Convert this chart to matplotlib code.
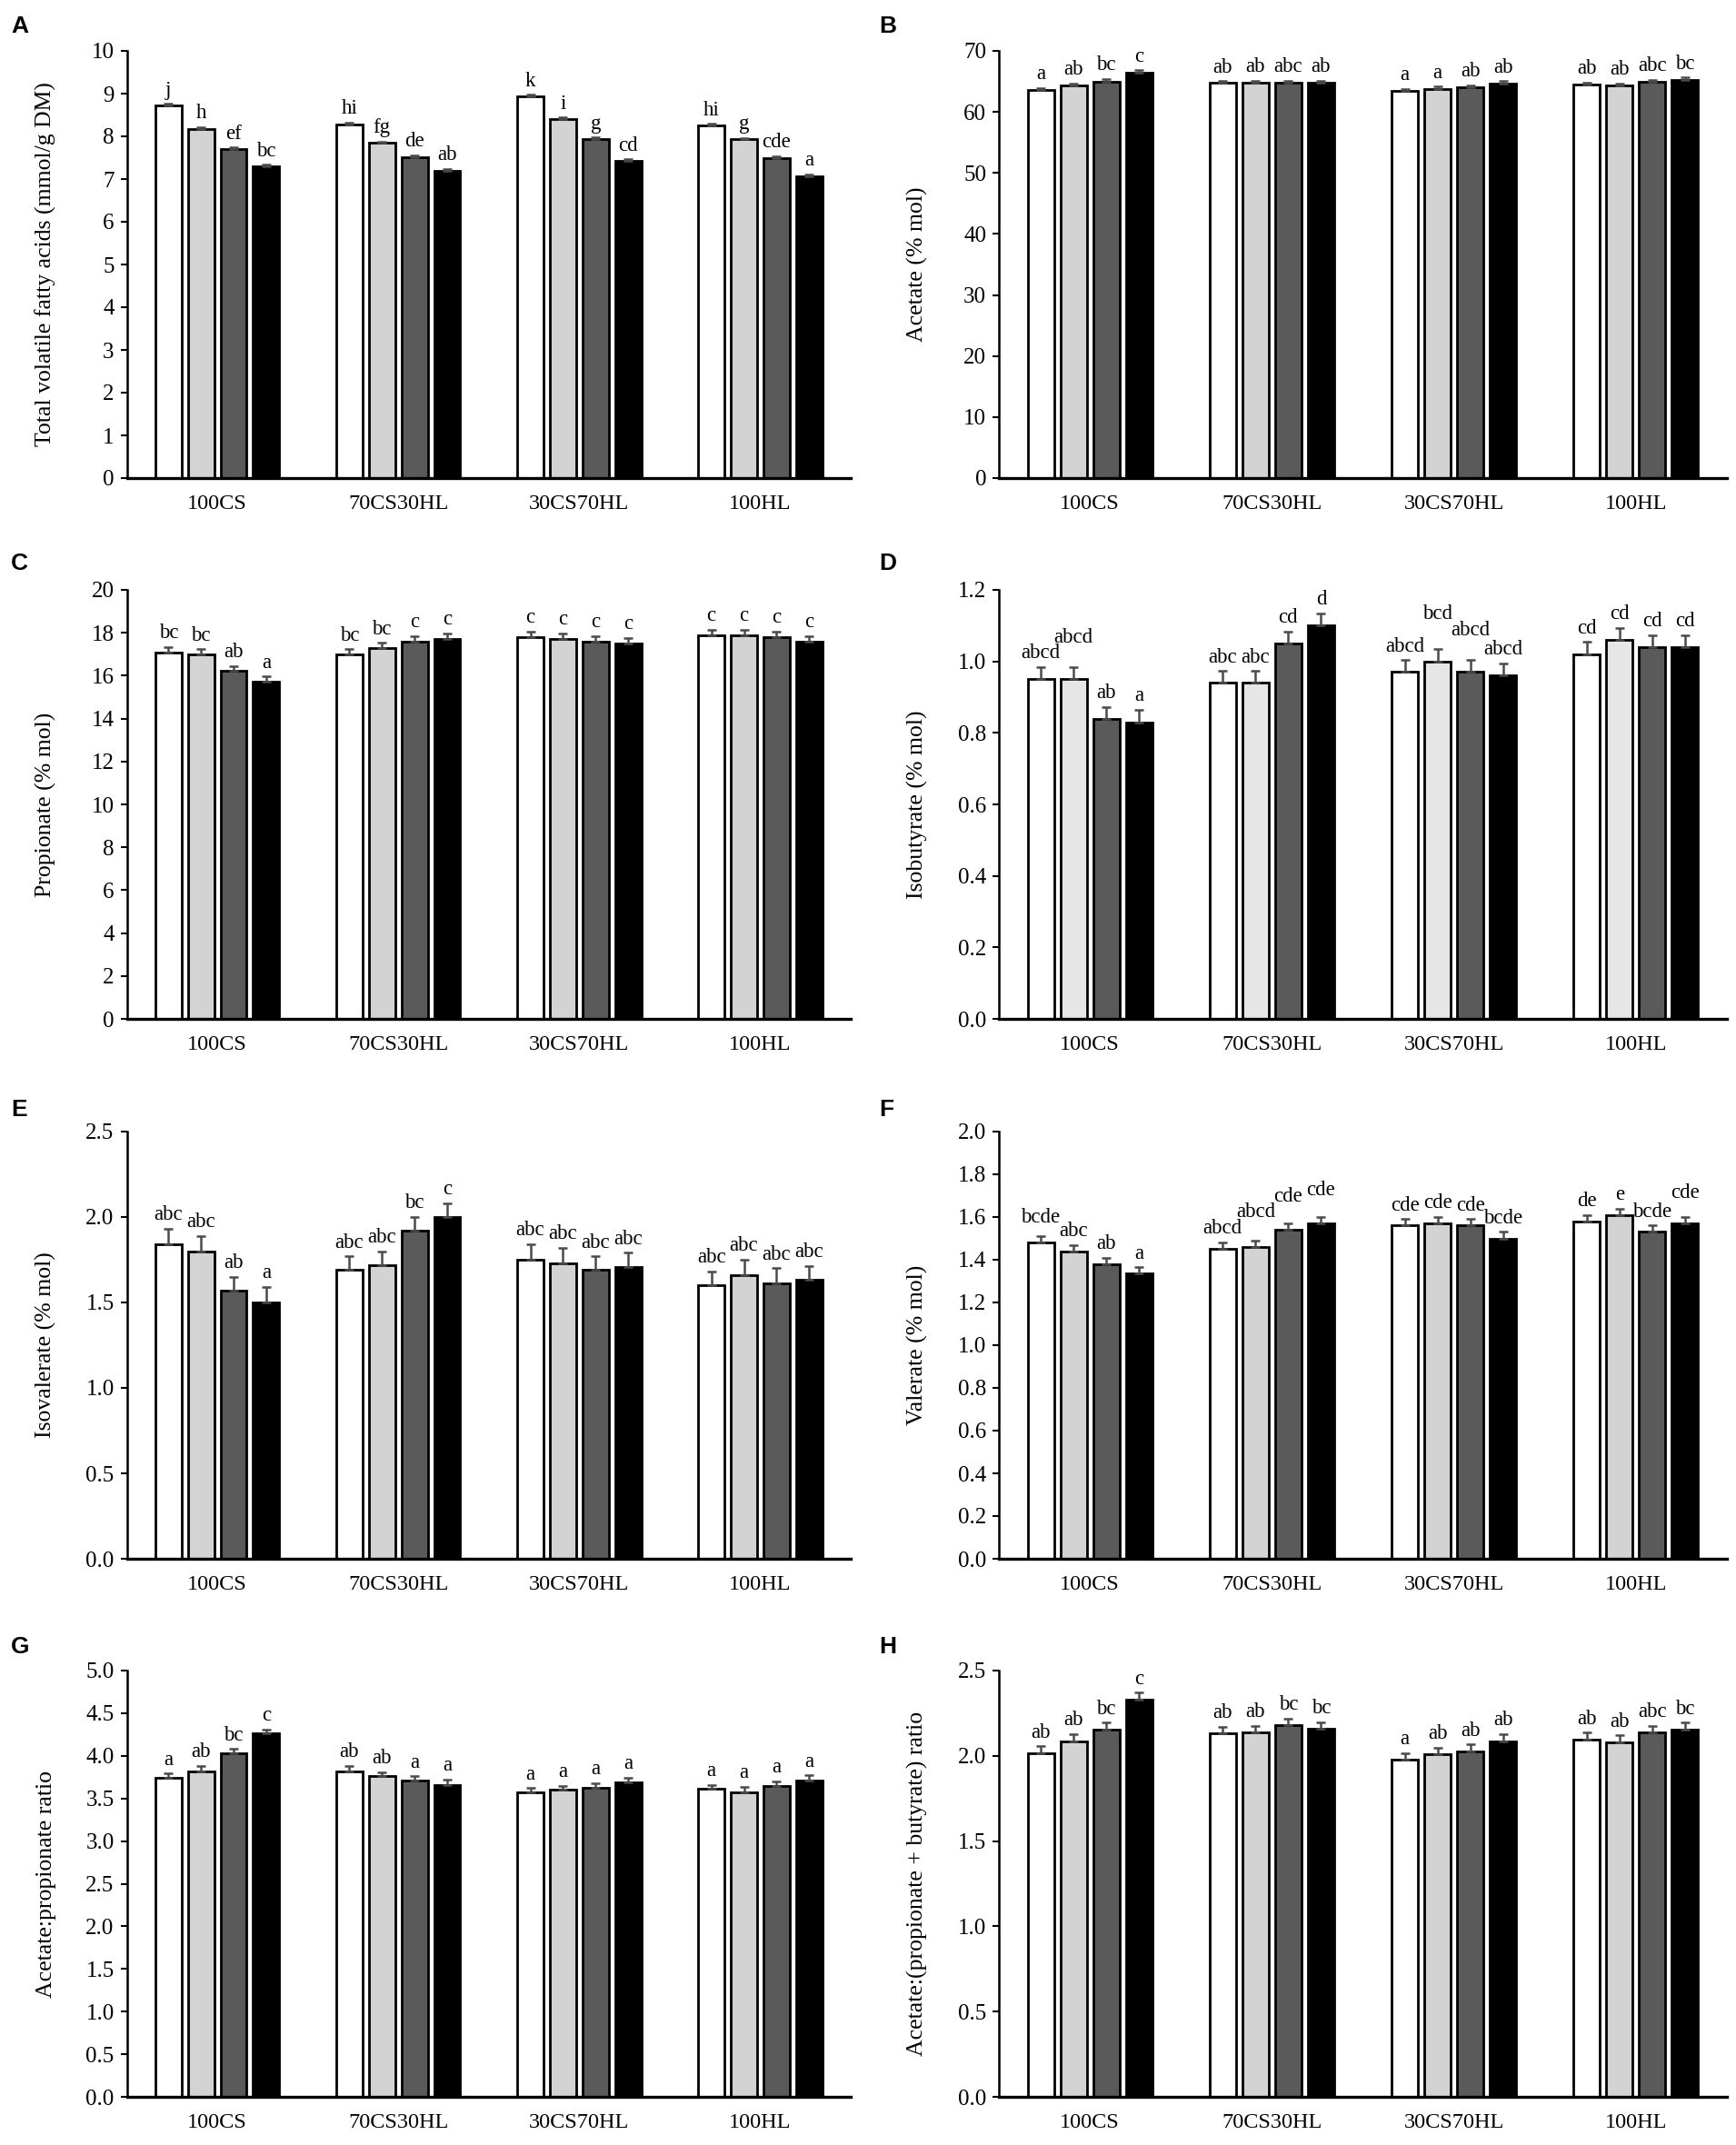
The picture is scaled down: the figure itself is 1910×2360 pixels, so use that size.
import numpy as np
import matplotlib.pyplot as plt

groups = ['100CS', '70CS30HL', '30CS70HL', '100HL']

# values per group, 4 bars each (white, light grey, dark grey, black)
tvfa = [[8.72, 8.18, 7.70, 7.29], [8.28, 7.85, 7.52, 7.19],
        [8.94, 8.40, 7.93, 7.42], [8.25, 7.93, 7.49, 7.07]]
tvfa_se = [[0.04, 0.04, 0.04, 0.04], [0.04, 0.03, 0.04, 0.04],
           [0.03, 0.04, 0.04, 0.04], [0.04, 0.03, 0.04, 0.04]]
tvfa_let = [['j', 'h', 'ef', 'bc'], ['hi', 'fg', 'de', 'ab'],
            ['k', 'i', 'g', 'cd'], ['hi', 'g', 'cde', 'a']]

acet = [[63.6, 64.3, 65.0, 66.5], [64.8, 64.8, 64.8, 64.8],
        [63.4, 63.8, 64.1, 64.7], [64.5, 64.3, 65.0, 65.3]]
acet_se = [[0.35, 0.35, 0.4, 0.3], [0.25, 0.3, 0.35, 0.3],
           [0.35, 0.35, 0.3, 0.35], [0.3, 0.35, 0.3, 0.35]]
acet_let = [['a', 'ab', 'bc', 'c'], ['ab', 'ab', 'abc', 'ab'],
            ['a', 'a', 'ab', 'ab'], ['ab', 'ab', 'abc', 'bc']]

prop = [[17.07, 16.98, 16.23, 15.71], [16.98, 17.28, 17.58, 17.71],
        [17.80, 17.71, 17.60, 17.50], [17.90, 17.90, 17.80, 17.60]]
prop_se = [[0.26, 0.25, 0.22, 0.25], [0.25, 0.25, 0.25, 0.25],
           [0.25, 0.25, 0.25, 0.25], [0.25, 0.25, 0.25, 0.25]]
prop_let = [['bc', 'bc', 'ab', 'a'], ['bc', 'bc', 'c', 'c'],
            ['c', 'c', 'c', 'c'], ['c', 'c', 'c', 'c']]

isob = [[0.95, 0.95, 0.84, 0.83], [0.94, 0.94, 1.05, 1.10],
        [0.97, 1.00, 0.97, 0.96], [1.02, 1.06, 1.04, 1.04]]
isob_se = [[0.034, 0.034, 0.033, 0.034], [0.033, 0.033, 0.033, 0.034],
           [0.033, 0.034, 0.033, 0.034], [0.034, 0.033, 0.034, 0.033]]
isob_let = [['abcd', 'abcd', 'ab', 'a'], ['abc', 'abc', 'cd', 'd'],
            ['abcd', 'bcd', 'abcd', 'abcd'], ['cd', 'cd', 'cd', 'cd']]

isov = [[1.84, 1.80, 1.57, 1.50], [1.69, 1.72, 1.92, 2.00],
        [1.75, 1.73, 1.69, 1.71], [1.60, 1.66, 1.61, 1.635]]
isov_se = [[0.09, 0.09, 0.08, 0.09], [0.08, 0.08, 0.08, 0.08],
           [0.09, 0.09, 0.08, 0.08], [0.08, 0.09, 0.09, 0.08]]
isov_let = [['abc', 'abc', 'ab', 'a'], ['abc', 'abc', 'bc', 'c'],
            ['abc', 'abc', 'abc', 'abc'], ['abc', 'abc', 'abc', 'abc']]

val = [[1.48, 1.44, 1.38, 1.335], [1.45, 1.46, 1.54, 1.57],
       [1.56, 1.57, 1.56, 1.50], [1.58, 1.61, 1.53, 1.57]]
val_se = [[0.032, 0.03, 0.03, 0.03], [0.03, 0.03, 0.03, 0.03],
          [0.03, 0.03, 0.03, 0.03], [0.03, 0.028, 0.03, 0.03]]
val_let = [['bcde', 'abc', 'ab', 'a'], ['abcd', 'abcd', 'cde', 'cde'],
           ['cde', 'cde', 'cde', 'bcde'], ['de', 'e', 'bcde', 'cde']]

ap = [[3.74, 3.82, 4.03, 4.26], [3.82, 3.76, 3.71, 3.66],
      [3.57, 3.60, 3.62, 3.69], [3.61, 3.575, 3.65, 3.71]]
ap_se = [[0.05, 0.06, 0.05, 0.05], [0.06, 0.05, 0.05, 0.06],
         [0.05, 0.05, 0.06, 0.05], [0.05, 0.06, 0.05, 0.06]]
ap_let = [['a', 'ab', 'bc', 'c'], ['ab', 'ab', 'a', 'a'],
          ['a', 'a', 'a', 'a'], ['a', 'a', 'a', 'a']]

apb = [[2.016, 2.086, 2.155, 2.33], [2.13, 2.135, 2.18, 2.157],
       [1.976, 2.008, 2.027, 2.086], [2.096, 2.08, 2.137, 2.155]]
apb_se = [[0.04, 0.04, 0.04, 0.04], [0.04, 0.04, 0.04, 0.04],
          [0.04, 0.04, 0.04, 0.04], [0.04, 0.04, 0.04, 0.04]]
apb_let = [['ab', 'ab', 'bc', 'c'], ['ab', 'ab', 'bc', 'bc'],
           ['a', 'ab', 'ab', 'ab'], ['ab', 'ab', 'abc', 'bc']]

colors = ['white', '#d3d3d3', '#5a5a5a', 'black']
colors_d = ['white', '#e6e6e6', '#5a5a5a', 'black']

# extra lift of some letter labels (fraction of y range), as staggered in the original
lift = {
    'D': {(0, 1): 0.037, (2, 1): 0.05, (2, 2): 0.037},
    'F': {(0, 0): 0.01, (1, 1): 0.035, (1, 2): 0.03, (1, 3): 0.03, (3, 3): 0.025},
}

plt.rcParams['font.family'] = 'Liberation Serif'

fig = plt.figure(figsize=(19.1, 23.6), dpi=100)

# left, right columns; rows from top (pixels)
cols = [(139.5, 936), (1099, 1900)]
rows = [(56, 526), (649, 1121), (1245, 1715), (1838, 2307)]
W, H = 1910.0, 2360.0

panels = [
    ('A', tvfa, tvfa_se, tvfa_let, 'Total volatile fatty acids (mmol/g DM)', 10, 1, '%d', colors),
    ('B', acet, acet_se, acet_let, 'Acetate (% mol)', 70, 10, '%d', colors),
    ('C', prop, prop_se, prop_let, 'Propionate (% mol)', 20, 2, '%d', colors),
    ('D', isob, isob_se, isob_let, 'Isobutyrate (% mol)', 1.2, 0.2, '%.1f', colors_d),
    ('E', isov, isov_se, isov_let, 'Isovalerate (% mol)', 2.5, 0.5, '%.1f', colors),
    ('F', val, val_se, val_let, 'Valerate (% mol)', 2.0, 0.2, '%.1f', colors),
    ('G', ap, ap_se, ap_let, 'Acetate:propionate ratio', 5.0, 0.5, '%.1f', colors),
    ('H', apb, apb_se, apb_let, 'Acetate:(propionate + butyrate) ratio', 2.5, 0.5, '%.1f', colors),
]

x = np.arange(len(groups))
bw = 0.145
offs = [-0.27, -0.09, 0.09, 0.27]

for i, (lab, vals, se, lets, ylab, ymax, step, fmt, cl) in enumerate(panels):
    r, c = i // 2, i % 2
    x0, x1 = cols[c]
    y0, y1 = rows[r]
    ax = fig.add_axes([x0 / W, 1 - y1 / H, (x1 - x0) / W, (y1 - y0) / H])
    vals = np.array(vals)
    se = np.array(se)
    extra = lift.get(lab, {})
    for k in range(4):
        xs = x + offs[k]
        ax.bar(xs, vals[:, k], width=bw, color=cl[k], edgecolor='black', linewidth=2.0, zorder=2)
        ax.errorbar(xs, vals[:, k], yerr=[np.zeros(4), se[:, k]], fmt='none',
                    ecolor='#4a4a4a', elinewidth=1.8, capsize=3.8, capthick=1.8, zorder=3)
        for g in range(4):
            yt = vals[g, k] + se[g, k] + ymax * (0.01 + extra.get((g, k), 0))
            ax.text(xs[g], yt, lets[g][k], ha='center', va='bottom', fontsize=16.5)
    ax.set_xlim(-0.5, 3.5)
    ax.set_ylim(0, ymax)
    ticks = np.arange(0, ymax + step / 2, step)
    ax.set_yticks(ticks)
    ax.set_yticklabels([fmt % t for t in ticks])
    ax.set_xticks(x)
    ax.set_xticklabels(groups)
    ax.tick_params(axis='x', length=0, pad=13, labelsize=17.5)
    ax.tick_params(axis='y', length=5, width=1.5, direction='out', labelsize=18, pad=5)
    ax.spines['top'].set_visible(False)
    ax.spines['right'].set_visible(False)
    ax.spines['left'].set_linewidth(1.8)
    ax.spines['bottom'].set_linewidth(2.4)
    ax.set_ylabel(ylab, fontsize=18.5)
    ax.yaxis.set_label_coords(-0.097, 0.5)
    ly = {0: 29, 1: 620, 2: 1221, 3: 1812}[r]
    fig.text((12 if c == 0 else 967) / W, 1 - ly / H, lab, fontsize=19, fontweight='bold',
             family='Liberation Sans', ha='left', va='center')

fig.savefig('out.png', dpi=100)
